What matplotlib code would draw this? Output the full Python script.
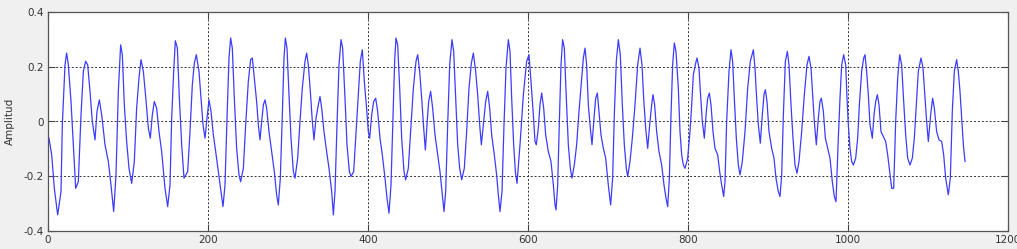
import matplotlib.pyplot as plt

# muestras (x = indice de muestra, y = amplitud)
x_vals = [
    1.25, 4.6, 7.9, 12.1, 16.25, 17.9, 21.25, 23.3, 25.4, 28.75, 31.7, 34.6, 37.9, 41.25, 44.2, 47.1,
    49.6, 52.5, 55.4, 58.75, 61.25, 64.2, 67.1, 71.25, 75.4, 78.75, 82.1, 85, 87.9, 90.8, 92.9, 95.4,
    98.3, 101.25, 104.6, 107.9, 110.8, 113.75, 116.25, 119.2, 122.1, 125.4, 127.9, 130.4, 132.9, 135.8,
    138.75, 142.1, 146.25, 149.6, 152.5, 154.6, 157.1, 159.2, 161.7, 164.2, 167.1, 170, 174.6, 177.5,
    180.4, 182.9, 185.4,
    188.75, 191.25, 193.75, 196.25, 198.75, 201.25, 203.75, 206.7, 209.6, 212.9, 216.25, 218.75, 221.25,
    223.75, 226.25, 228.3, 230.4, 232.9, 235.8, 238.75, 240.8, 244.2, 247.1, 250.4, 253.3, 255.4, 257.9,
    260.8, 262.9, 265, 267.1, 269.2, 271.25, 273.3, 276.25, 279.6, 282.9, 285.8, 287.9, 290.4, 292.9,
    295, 296.7, 298.75, 301.25, 303.75, 306.7, 308.75, 312.1, 315, 317.9, 321.25, 323.3, 325.4, 327.9,
    330.4, 332.5, 335, 337.9, 340, 342.1, 345, 348.3, 351.25, 354.6, 356.7, 358.75, 361.25, 363.75,
    366.25, 368.3, 371.25, 373.75, 376.7, 378.75, 382.1, 384.6, 387.9, 390.4, 392.9,
    395.4, 397.9, 400.4, 402.1, 404.6, 407.1, 409.6, 412.1, 415, 417.9, 421.25, 423.75, 426.25, 428.75,
    431.25, 433.3, 435, 437.1, 439.6, 442.1, 445, 447.1, 450.4, 453.3, 456.7, 460, 462.1, 464.6, 467.1,
    469.6, 471.7, 473.75, 475.8, 478.3, 480.8, 483.75, 487.1, 490, 492.9, 495, 497.1, 499.6, 502.1, 505,
    507.1, 509.6, 512.1, 514.6, 517.1, 520.4, 523.3, 526.25, 529.2, 531.7, 534.6, 537.1, 539.6, 541.7,
    544.6, 547.1, 549.6, 552.1, 554.6, 557.9, 560.8, 562.9, 565, 567.5, 570, 572.5, 575.4, 577.5, 579.6,
    582.1, 584.2, 586.25,
    590, 594.2, 598.3, 601.25, 603.75, 606.7, 608.75, 610.4, 612.9, 615, 617.1, 619.6, 622.1, 625.4,
    628.75, 631.7, 633.75, 635, 637.1, 639.2, 641.25, 643.3, 645.4, 647.9, 650.4, 652.9, 655, 657.9,
    660.8, 663.75, 667.1, 669.2, 671.25, 673.3, 675.4, 677.9, 680, 682.5, 684.6, 686.7, 688.75, 691.25,
    694.2, 697.1, 700.4, 703.3, 705.8, 707.9, 710.4, 712.9, 715.4, 717.9, 720.4, 722.9, 724.6, 727.5,
    730.4, 733.75, 737.1, 740, 742.5, 744.6, 747.1, 749.6, 752.1, 754.6, 756.25, 758.3, 760.8, 763.75,
    767.1, 770, 772.5, 774.6, 776.7, 778.75, 780.8, 782.9, 785,
    787.9, 790, 792.1, 794.2, 796.25, 799.6, 802.5, 804.6, 806.7, 809.6, 811.25, 813.75, 815.4, 817.9,
    820.4, 822.9, 824.6, 826.7, 828.75, 831.25, 833.75, 837.1, 839.6, 842.1, 844.6, 846.25, 848.3, 851.25,
    853.75, 855.8, 857.9, 860.4, 862.9, 865, 867.9, 871.25, 874.6, 877.9, 881.7, 883.75, 885.8, 887.9,
    890.4, 892.9, 895, 896.7, 898.75, 901.25, 904.6, 907.5, 910, 912.9, 915, 917.1, 919.2, 921.7, 924.2,
    926.25, 928.75, 931.25, 933.75, 936.25, 938.75, 942.1, 945.4, 948.75, 951.25, 953.75, 955.8, 957.9,
    960.4, 962.9, 965, 966.7, 969.2, 971.7, 974.6, 977.5, 980.4, 982.9, 985,
    987.9, 990, 992.1, 994.6, 997.1, 998.75, 1000.4, 1002.5, 1004.6, 1006.7, 1009.6, 1012.1, 1014.2,
    1017.1, 1019.6, 1021.25, 1023.3, 1025.4, 1027.5, 1030.4, 1032.5, 1034.6, 1036.7, 1038.75, 1041.25,
    1044.2, 1047.1, 1049.6, 1052.1, 1054.6, 1057.1, 1059.6, 1062.1, 1064.6, 1067.1, 1069.6, 1072.1,
    1074.6, 1077.5, 1080.4, 1082.9, 1085.4, 1087.9, 1091.25, 1093.75, 1096.25, 1098.3, 1100.4, 1103.3,
    1105.8, 1107.9, 1110.8, 1113.75, 1117.1, 1119.6, 1122.1, 1125.4, 1127.9, 1130.4, 1132.9, 1135.8,
    1137.9, 1140, 1142.1, 1144.2, 1146.25,
]

y_vals = [
    -0.061, -0.122, -0.244, -0.341, -0.256, -0.012, 0.207, 0.250, 0.207, 0.073, -0.085, -0.244, -0.220, 0.024, 0.183, 0.220,
    0.207, 0.110, 0.0, -0.067, 0.037, 0.079, 0.024, -0.085, -0.146, -0.232, -0.329, -0.195, 0.110, 0.280, 0.244, 0.061,
    -0.073, -0.171, -0.226, -0.146, 0.049, 0.159, 0.226, 0.183, 0.091, -0.024, -0.061, 0.024, 0.073, 0.049,
    -0.037, -0.110, -0.244, -0.311, -0.232, 0.012, 0.183, 0.295, 0.268, 0.085, -0.085, -0.207, -0.183, -0.037,
    0.134, 0.213, 0.244,
    0.183, 0.085, -0.012, -0.061, 0.012, 0.079, 0.037, -0.049, -0.110, -0.183, -0.256, -0.311, -0.232,
    0.012, 0.232, 0.305, 0.268, 0.085, -0.098, -0.195, -0.220, -0.171, -0.012, 0.146, 0.226, 0.232, 0.159,
    0.073, -0.012, -0.067, 0.0, 0.061, 0.079, 0.049, -0.037, -0.110, -0.183, -0.268, -0.305, -0.207, 0.024,
    0.232, 0.305, 0.268, 0.098, -0.061, -0.183, -0.207, -0.134, 0.0, 0.122, 0.220, 0.250, 0.207, 0.110,
    0.0, -0.067, 0.012, 0.061, 0.091, 0.049, -0.037, -0.110, -0.171, -0.256, -0.341, -0.256, -0.012, 0.207,
    0.299, 0.268, 0.085, -0.085, -0.183, -0.201, -0.183, -0.061, 0.098, 0.220, 0.262,
    0.146, 0.061, -0.037, -0.061, 0.024, 0.073, 0.085, 0.037, -0.061, -0.122, -0.207, -0.280, -0.335, -0.232,
    0.012, 0.220, 0.305, 0.280, 0.122, -0.061, -0.183, -0.213, -0.171, -0.037, 0.122, 0.220, 0.244, 0.183, 0.085,
    -0.024, -0.104, -0.012, 0.073, 0.110, 0.049, -0.049, -0.122, -0.183, -0.268, -0.329, -0.256, -0.012, 0.207, 0.299,
    0.256, 0.085, -0.085, -0.171, -0.213, -0.171, -0.037, 0.122, 0.213, 0.250, 0.183, 0.098, -0.012, -0.085,
    0.0, 0.073, 0.110, 0.049, -0.049, -0.122, -0.195, -0.268, -0.329, -0.256, -0.012, 0.195, 0.299, 0.256, 0.085,
    -0.085, -0.183, -0.226,
    -0.085, 0.098, 0.220, 0.244, 0.146, 0.024, -0.073, -0.085, -0.024, 0.061, 0.104, 0.049, -0.049, -0.110,
    -0.146, -0.232, -0.305, -0.323, -0.232, 0.0, 0.207, 0.299, 0.268, 0.085, -0.085, -0.171, -0.207, -0.159,
    -0.085, 0.037, 0.159, 0.232, 0.268, 0.207, 0.061, -0.024, -0.085, 0.012, 0.085, 0.104, 0.037, -0.049,
    -0.098, -0.134, -0.232, -0.305, -0.207, 0.024, 0.220, 0.299, 0.244, 0.061, -0.085, -0.171, -0.201, -0.146,
    -0.061, 0.061, 0.207, 0.268, 0.207, 0.085, -0.024, -0.098, -0.012, 0.061, 0.098, 0.061, -0.037, -0.110,
    -0.159, -0.232, -0.280, -0.311, -0.207, 0.024, 0.207, 0.287, 0.256,
    0.122, -0.037, -0.122, -0.159, -0.171, -0.134, -0.037, 0.061, 0.171, 0.213, 0.232, 0.195, 0.110, 0.0,
    -0.061, 0.037, 0.085, 0.104, 0.061, -0.037, -0.098, -0.122, -0.183, -0.232, -0.274, -0.220, 0.0, 0.183,
    0.262, 0.220, 0.085, -0.061, -0.159, -0.195, -0.146, -0.037, 0.122, 0.220, 0.262, 0.195, 0.085, -0.012,
    -0.079, 0.024, 0.098, 0.116, 0.073, -0.037, -0.098, -0.134, -0.207, -0.256, -0.274, -0.195, 0.024, 0.220, 0.256,
    0.207, 0.061, -0.061, -0.159, -0.189, -0.146, -0.037, 0.098, 0.207, 0.238, 0.195, 0.098, 0.0,
    -0.085, 0.012, 0.073, 0.085, 0.037, -0.061, -0.098, -0.134, -0.220, -0.274, -0.293,
    -0.061, 0.085, 0.207, 0.244, 0.207, 0.085, -0.012, -0.098, -0.146, -0.159, -0.134, -0.061, 0.061,
    0.183, 0.232, 0.244, 0.183, 0.098, -0.012, -0.061, 0.024, 0.073, 0.098, 0.061, -0.037,
    -0.055, -0.073, -0.122, -0.183, -0.244, -0.244, 0.0, 0.159, 0.244, 0.207, 0.073, -0.049,
    -0.134, -0.159, -0.134, -0.061, 0.061, 0.183, 0.232, 0.195, 0.085, 0.0, -0.073, 0.024,
    0.085, 0.049, -0.037, -0.067, -0.073, -0.122, -0.207, -0.268, -0.207, 0.037, 0.183, 0.226,
    0.183, 0.110, 0.012, -0.085, -0.146,
]

x_ticks = [0, 200, 400, 600, 800, 1000, 1200]
y_ticks = [-0.4, -0.2, 0, 0.2, 0.4]
y_tick_labels = ['-0.4', '-0.2', '0', '0.2', '0.4']

fig = plt.figure(figsize=(10.17, 2.49), dpi=100, facecolor='#f0f0f0')
ax = fig.add_axes([48 / 1017, 18 / 249, 960 / 1017, 219 / 249])
ax.set_facecolor('white')

ax.plot(x_vals, y_vals, color='#3c3cff', linewidth=0.9)

ax.set_xlim(0, 1200)
ax.set_ylim(-0.4, 0.4)
ax.set_xticks(x_ticks)
ax.set_yticks(y_ticks)
ax.set_yticklabels(y_tick_labels)
ax.grid(True, color='#333333', linestyle=(0, (2, 2)), linewidth=0.7)
ax.tick_params(direction='in', length=5, width=0.8, top=True, right=True,
               labelsize=7.5, labelcolor='#333333', colors='#444444', pad=3)
for lado in ax.spines.values():
    lado.set_color('#555555')
    lado.set_linewidth(0.9)

ax.set_ylabel('Amplitud', fontsize=7.5, color='#333333', labelpad=6)

fig.savefig('out.png', dpi=100, facecolor=fig.get_facecolor())
